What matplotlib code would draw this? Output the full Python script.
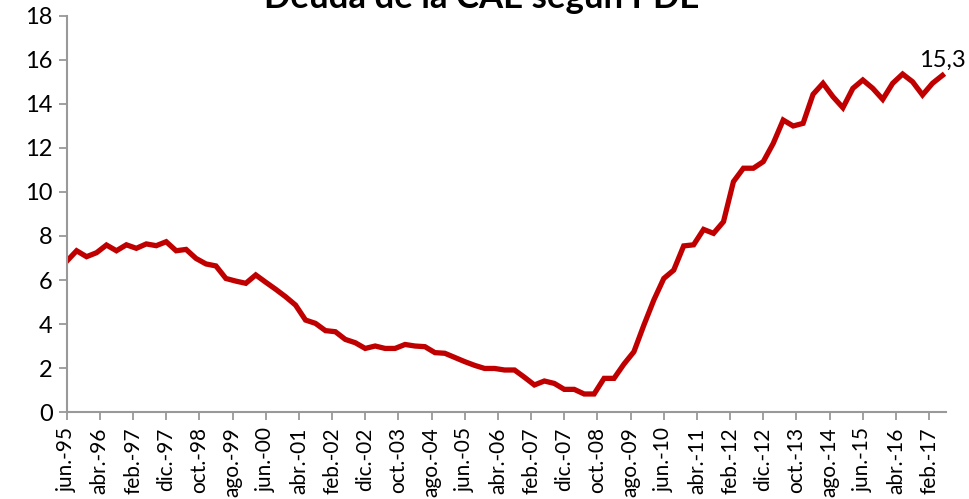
import matplotlib
matplotlib.use("Agg")
import matplotlib.pyplot as plt

plt.rcParams['font.family'] = ['Lato', 'DejaVu Sans']

# deuda trimestral, jun-95 .. jun-17 (% PIB)
deuda = [
    6.85, 7.33, 7.06,
    7.24, 7.59, 7.33, 7.60,
    7.44, 7.64, 7.56, 7.74,
    7.33, 7.39, 6.98, 6.73,
    6.64, 6.07, 5.95, 5.85,
    6.23, 5.90, 5.58, 5.24,
    4.86, 4.18, 4.03, 3.70,
    3.65, 3.30, 3.15, 2.89,
    3.00, 2.89, 2.89, 3.07,
    3.00, 2.97, 2.70, 2.67,
    2.48, 2.29, 2.12, 1.98,
    1.98, 1.91, 1.91, 1.58,
    1.23, 1.41, 1.30, 1.03,
    1.03, 0.82, 0.82, 1.53,
    1.53, 2.18, 2.74, 3.95,
    5.09, 6.07, 6.45, 7.55,
    7.60, 8.30, 8.12, 8.65,
    10.47, 11.08, 11.08, 11.38,
    12.21, 13.27, 13.00, 13.12,
    14.44, 14.94, 14.33, 13.83,
    14.71, 15.09, 14.71, 14.21,
    14.94, 15.36, 15.01, 14.41,
    14.94, 15.30,
]
# meses desde jun-95
meses = [3 * i for i in range(len(deuda))]

etiquetas = ["jun.-95", "abr.-96", "feb.-97", "dic.-97", "oct.-98", "ago.-99",
             "jun.-00", "abr.-01", "feb.-02", "dic.-02", "oct.-03", "ago.-04",
             "jun.-05", "abr.-06", "feb.-07", "dic.-07", "oct.-08", "ago.-09",
             "jun.-10", "abr.-11", "feb.-12", "dic.-12", "oct.-13", "ago.-14",
             "jun.-15", "abr.-16", "feb.-17"]
pos_etiquetas = [10 * i for i in range(len(etiquetas))]

fig = plt.figure(figsize=(9.69, 4.99), dpi=100)
ax = fig.add_axes([0.0688, 0.1743, 0.9072, 0.7937])

ax.plot(meses, deuda, color="#C00000", linewidth=3.8, solid_joinstyle="miter")
ax.annotate("15,3", (meses[-1], deuda[-1]), xytext=(0, 3), textcoords="offset points",
            ha="center", va="bottom", fontsize=17)

ax.set_xlim(0, 265)
ax.set_ylim(0, 18)
ax.set_yticks(range(0, 19, 2))
ax.set_xticks(pos_etiquetas)
ax.set_xticklabels(etiquetas, rotation=90, fontsize=15)
ax.tick_params(axis="y", labelsize=17, length=6, width=1.3, color="#999999", pad=4)
ax.tick_params(axis="x", length=6, width=1.3, color="#999999", pad=5)

for s in ["top", "right"]:
    ax.spines[s].set_visible(False)
for s in ["left", "bottom"]:
    ax.spines[s].set_color("#999999")
    ax.spines[s].set_linewidth(1.5)

fig.text(0.497, 1 - 8 / 499, "Deuda de la CAE según PDE", ha="center", va="baseline",
         fontsize=25, fontweight="bold")

fig.savefig("out.png", dpi=100)
